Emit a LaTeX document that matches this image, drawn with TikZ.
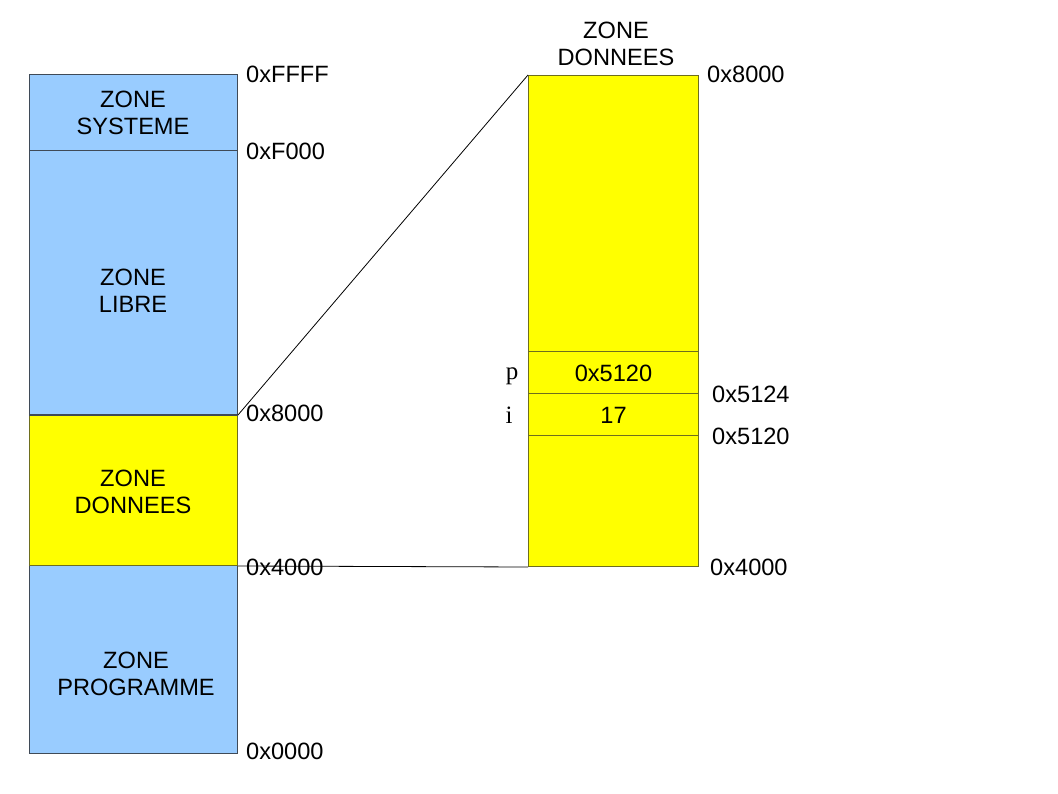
\documentclass[tikz,border=0pt]{standalone}
\usepackage{fontspec}
\setmainfont{Liberation Sans}
\newfontfamily\serifface{Liberation Serif}
\definecolor{zblue}{HTML}{99CCFF}
\definecolor{zyellow}{HTML}{FFFF00}
\definecolor{bblue}{HTML}{3F4A57}
\definecolor{byellow}{HTML}{6E6E1E}
\begin{document}
\begin{tikzpicture}[x=1pt,y=-1pt,
  zone/.style={draw=#1,line width=1pt,inner sep=0pt,anchor=north west,minimum width=208pt},
  ztext/.style={font=\fontsize{23.6}{27}\selectfont,align=center,inner sep=0pt},
  addr/.style={font=\fontsize{23.6}{27}\selectfont,inner sep=0pt,anchor=west},
  var/.style={font=\serifface\fontsize{25}{28}\selectfont,inner sep=0pt},
  link/.style={draw=black,line width=0.8pt}]
\useasboundingbox (0,0) rectangle (1058,794);
% left column
\node[zone=bblue,fill=zblue,minimum height=76pt] (sys) at (29,74) {};
\node[zone=bblue,fill=zblue,minimum height=264pt] (lib) at (29,150) {};
\node[zone=bblue,fill=zblue,minimum height=188pt] (prog) at (29,565) {};
\node[zone=byellow,fill=zyellow,minimum height=150pt] (don) at (29,415) {};
\draw[bblue,line width=1.5pt] (lib.south west) -- (lib.south east);
\node[ztext] (tsys) at (133,113) {ZONE\\SYSTEME};
\node[ztext] (tlib) at (133,291) {ZONE\\LIBRE};
\node[ztext] (tdon) at (133,492) {ZONE\\DONNEES};
\node[ztext] (tprog) at (136,674) {ZONE\\PROGRAMME};
\node[addr] (aFFFF) at (246,74) {0xFFFF};
\node[addr] (aF000) at (246,151) {0xF000};
\node[addr] (a8000) at (246,413) {0x8000};
\node[addr] (a4000) at (246,567) {0x4000};
\node[addr] (a0000) at (246,751) {0x0000};
% right column
\node[zone=byellow,fill=zyellow,minimum width=170pt,minimum height=491pt] (big) at (528,75) {};
\node[zone=byellow,minimum width=170pt,minimum height=42pt] (cp) at (528,351) {};
\node[zone=byellow,minimum width=170pt,minimum height=42pt] (ci) at (528,393) {};
\node[font=\fontsize{23.6}{27}\selectfont,inner sep=0pt] (vp) at ([yshift=-1pt]cp.center) {0x5120};
\node[font=\fontsize{23.6}{27}\selectfont,inner sep=0pt] (vi) at ([yshift=-1pt]ci.center) {17};
\node[var] (np) at (512,376) {p};
\node[var] (ni) at (509,415) {i};
\node[ztext] (title) at (616,44) {ZONE\\DONNEES};
\node[addr] (r8000) at (707,74) {0x8000};
\node[addr] (r5124) at (712,394) {0x5124};
\node[addr] (r5120) at (712,436) {0x5120};
\node[addr] (r4000) at (710,567) {0x4000};
% connectors
\draw[link] (lib.south east) -- (big.north west);
\draw[link] (don.south east) -- (big.south west);
\end{tikzpicture}
\end{document}
